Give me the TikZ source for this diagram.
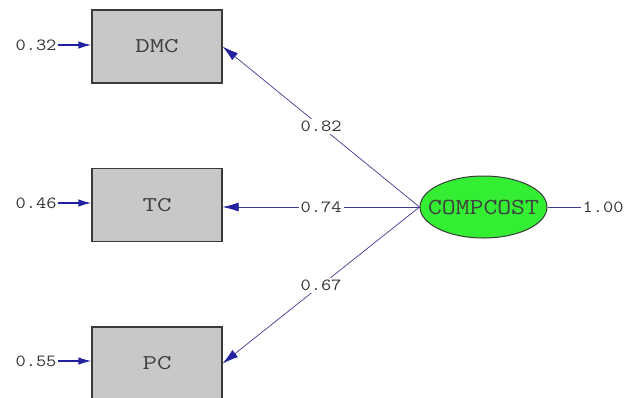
\documentclass[tikz,border=0pt]{standalone}
\usepackage{graphicx}
\usetikzlibrary{shapes.geometric,arrows.meta}
\definecolor{boxgray}{HTML}{C8C8C8}
\definecolor{edge}{HTML}{3A3A3A}
\definecolor{pathblue}{HTML}{3C3C96}
\definecolor{headblue}{HTML}{2222A0}
\definecolor{latgreen}{HTML}{33EE33}
\newcommand{\wx}[2]{\scalebox{#1}[1]{#2}}
\begin{document}
\begin{tikzpicture}[x=1pt,y=-1pt,
  obs/.style={draw=edge,line width=1.2pt,fill=boxgray,minimum width=130pt,minimum height=73pt,inner sep=0pt,
    font=\fontsize{21}{21}\ttfamily,text=black!75},
  lat/.style={ellipse,draw=edge,line width=1pt,fill=latgreen,minimum width=127pt,minimum height=62pt,inner sep=0pt},
  lattext/.style={font=\fontsize{23}{23}\ttfamily,text=black!75,inner sep=0pt},
  num/.style={font=\fontsize{17}{17}\ttfamily,text=black!80,inner sep=1pt},
  lbl/.style={font=\fontsize{17}{17}\ttfamily,text=black!80,fill=white,inner sep=2pt},
  err/.style={draw=headblue,line width=1.3pt,-{Latex[length=13pt,width=7.5pt]}},
  load/.style={draw=pathblue,line width=0.7pt,arrows={-{Latex[length=16pt,width=9pt,color=headblue]}}}
]
\useasboundingbox (0,0) rectangle (628,397);
\clip (0,0) rectangle (628,397);
\node[obs] (dmc) at (157,46.5) {\wx{1.34}{DMC}};
\node[obs] (tc) at (157,205) {\wx{1.34}{TC}};
\node[obs] (pc) at (157,363.5) {\wx{1.34}{PC}};
\node[lat] (cc) at (483.5,207) {};
\node[lattext] (cct) at (cc.center) {\wx{1.17}{COMPCOST}};
\node[num] (e1) at (36,45) {\wx{1.17}{0.32}};
\node[num] (e2) at (36,203) {\wx{1.17}{0.46}};
\node[num] (e3) at (36,361) {\wx{1.17}{0.55}};
\node[num] (v) at (603,207) {\wx{1.17}{1.00}};
\coordinate (cw) at (cc.west);
\draw[err] (e1.east) -- (dmc.west |- e1.east);
\draw[err] (e2.east) -- (tc.west |- e2.east);
\draw[err] (e3.east) -- (pc.west |- e3.east);
\draw[pathblue,line width=0.7pt] (cc.east) -- (v.west);
\draw[load] (cw) -- node[lbl,pos=0.5] (l1) {\wx{1.17}{0.82}} (dmc.east);
\draw[load] (cw) -- node[lbl,pos=0.5] (l2) {\wx{1.17}{0.74}} (tc.east |- cw);
\draw[load] (cw) -- node[lbl,pos=0.5] (l3) {\wx{1.17}{0.67}} (pc.east);
\end{tikzpicture}
\end{document}
